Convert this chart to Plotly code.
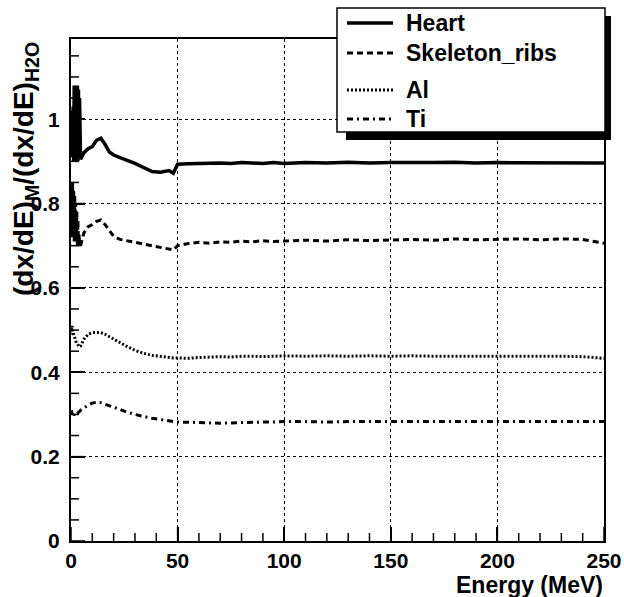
import plotly.graph_objects as go

# ---------------- data ----------------
energy = [0.25, 0.5, 0.75, 1.0, 1.25, 1.5, 1.75, 2.0, 2.25, 2.5, 2.75, 3.0, 3.25, 3.5, 3.75, 4.0, 4.5,
          5, 6, 8, 10, 12, 14, 16, 18, 20,
          23, 26, 30, 34, 38, 42, 46, 48, 50,
          55, 60, 65, 70, 75, 80, 85, 90, 95, 100,
          110, 120, 130, 140, 150, 160, 170, 180, 190, 200, 210, 220, 230, 240, 250]

heart = [0.92, 1.02, 0.91, 1.03, 0.90, 1.08, 0.91, 1.08, 0.90, 1.08, 0.91, 1.08, 0.90, 1.07, 0.91, 1.05, 0.905,
         0.91, 0.92, 0.93, 0.935, 0.95, 0.955, 0.94, 0.922, 0.915,
         0.91, 0.903, 0.895, 0.885, 0.876, 0.874, 0.878, 0.872, 0.893,
         0.894, 0.895, 0.894, 0.896, 0.895, 0.897, 0.896, 0.895, 0.897, 0.895,
         0.897, 0.896, 0.898, 0.896, 0.897, 0.896, 0.897, 0.898, 0.896, 0.897, 0.897, 0.896, 0.897, 0.896, 0.896]

skeleton_ribs = [0.84, 0.72, 0.85, 0.74, 0.83, 0.71, 0.82, 0.72, 0.80, 0.71, 0.78, 0.70, 0.76, 0.70, 0.73, 0.705, 0.70,
                 0.71, 0.73, 0.745, 0.75, 0.758, 0.761, 0.75, 0.735, 0.722,
                 0.715, 0.712, 0.708, 0.705, 0.70, 0.697, 0.693, 0.69, 0.70,
                 0.705, 0.708, 0.706, 0.709, 0.708, 0.711, 0.709, 0.712, 0.710, 0.711,
                 0.713, 0.711, 0.714, 0.712, 0.713, 0.715, 0.713, 0.716, 0.714, 0.715, 0.716, 0.714, 0.716, 0.715, 0.706]

al = [0.50, 0.51, 0.49, 0.50, 0.49, 0.485, 0.48, 0.478, 0.475, 0.47, 0.468, 0.466, 0.464, 0.462, 0.46, 0.46, 0.462,
      0.468, 0.478, 0.49, 0.494, 0.494, 0.494, 0.49, 0.484, 0.478,
      0.47, 0.462, 0.452, 0.445, 0.44, 0.437, 0.435, 0.434, 0.434,
      0.433, 0.435, 0.436, 0.437, 0.436, 0.438, 0.438, 0.437, 0.438, 0.439,
      0.438, 0.439, 0.438, 0.439, 0.438, 0.439, 0.438, 0.438, 0.439, 0.438, 0.438, 0.439, 0.438, 0.437, 0.433]

ti = [0.31, 0.30, 0.305, 0.30, 0.302, 0.298, 0.30, 0.298, 0.299, 0.30, 0.30, 0.301, 0.302, 0.303, 0.305, 0.307, 0.31,
      0.312, 0.316, 0.322, 0.327, 0.329, 0.328, 0.324, 0.32, 0.317,
      0.312, 0.306, 0.30, 0.295, 0.291, 0.288, 0.284, 0.283, 0.282,
      0.282, 0.281, 0.28, 0.279, 0.28, 0.281, 0.281, 0.282, 0.282, 0.283,
      0.283, 0.282, 0.283, 0.283, 0.282, 0.283, 0.283, 0.282, 0.283, 0.283, 0.282, 0.283, 0.283, 0.282, 0.283]

series_names = ["Heart", "Skeleton_ribs", "Al", "Ti"]
series_values = [heart, skeleton_ribs, al, ti]
x_max = 250
y_max = 1.19
x_tick_step = 50
y_tick_step = 0.2
x_minor_step = 10
y_minor_step = 0.05

# ---------------- styles ----------------
dashes = ["solid", "6px,4px", "2px,2px", "6px,4px,2px,4px"]
widths = [3.5, 3, 3, 3]
FONT = "Liberation Sans"

fig = go.Figure()
for name, vals, d, w in zip(series_names, series_values, dashes, widths):
    fig.add_trace(go.Scatter(x=energy, y=vals, mode="lines", name=name,
                             line=dict(color="black", width=w, dash=d),
                             showlegend=False))

tickfont = dict(family=FONT, size=21, color="black", weight="bold")

fig.update_layout(
    template="none",
    xaxis=dict(range=[0, x_max], tickmode="linear", tick0=0, dtick=x_tick_step,
               automargin=False, showline=True, linecolor="black", linewidth=2, mirror=True,
               ticks="inside", ticklen=14, tickwidth=1.5, tickcolor="black",
               showgrid=True, gridcolor="black", gridwidth=1, griddash="dot",
               zeroline=False, tickfont=tickfont, ticklabelstandoff=0),
    yaxis=dict(range=[0, y_max], tickmode="linear", tick0=0, dtick=y_tick_step,
               automargin=False, showline=True, linecolor="black", linewidth=2, mirror=True,
               ticks="inside", ticklen=14, tickwidth=1.5, tickcolor="black",
               showgrid=True, gridcolor="black", gridwidth=1, griddash="dot",
               zeroline=False, tickfont=tickfont, ticklabelstandoff=5),
)

# plot area: x 71..604, y 39..541 px
L, R, T, B = 71, 604, 39, 541
W, H = R - L, B - T
def px(x):
    return (x - L) / W
def py(y):
    return (B - y) / H

shapes = []
# tick marks on the bottom and left frame (positions on the data scale)
n_x = int(round(x_max / x_minor_step))
for i in range(n_x + 1):
    xv = i * x_minor_step
    major = (i * x_minor_step) % x_tick_step == 0
    ln = 14 if major else 8
    shapes.append(dict(type="line", xref="x", yref="paper", layer="above",
                       x0=xv, x1=xv, y0=0, y1=ln / H,
                       line=dict(color="black", width=1.5)))
n_y = int(y_max / y_minor_step)
for i in range(n_y + 1):
    yv = round(i * y_minor_step, 4)
    major = i % int(round(y_tick_step / y_minor_step)) == 0
    ln = 14 if major else 8
    shapes.append(dict(type="line", xref="paper", yref="y", layer="above",
                       x0=0, x1=ln / W, y0=yv, y1=yv,
                       line=dict(color="black", width=1.5)))

# legend shadow
shapes.append(dict(type="rect", xref="paper", yref="paper", layer="above",
                   x0=px(346), x1=px(611), y0=py(140), y1=py(16),
                   fillcolor="black", line=dict(width=0)))
# legend box
shapes.append(dict(type="rect", xref="paper", yref="paper", layer="above",
                   x0=px(337), x1=px(605), y0=py(132), y1=py(8),
                   fillcolor="white", line=dict(color="black", width=1.5)))
leg_y = [23, 53, 90, 119]
for d, w, yy, name in zip(dashes, widths, leg_y, series_names):
    shapes.append(dict(type="line", xref="paper", yref="paper", layer="above",
                       x0=px(347), x1=px(393), y0=py(yy), y1=py(yy),
                       line=dict(color="black", width=w, dash=d)))

annotations = []
for yy, name in zip(leg_y, series_names):
    annotations.append(dict(xref="paper", yref="paper", x=px(404), y=py(yy), text=name,
                            showarrow=False, xanchor="left", yanchor="middle",
                            font=dict(family=FONT, size=23, color="black", weight="bold")))
# axis titles
annotations.append(dict(xref="paper", yref="paper", x=px(605), y=py(585), text="Energy (MeV)",
                        showarrow=False, xanchor="right", yanchor="middle",
                        font=dict(family=FONT, size=23, color="black", weight="bold")))
annotations.append(dict(xref="paper", yref="paper", x=px(25), y=py(40),
                        text="(dx/dE)<sub>M</sub>/(dx/dE)<sub>H2O</sub>", textangle=-90,
                        showarrow=False, xanchor="center", yanchor="top",
                        font=dict(family=FONT, size=28, color="black", weight="bold")))

fig.update_layout(
    width=624, height=597,
    margin=dict(l=L, r=624 - R, t=T, b=597 - B, pad=0),
    paper_bgcolor="white", plot_bgcolor="white",
    shapes=shapes, annotations=annotations,
    showlegend=False,
)

fig.write_html("out.html", config={"displayModeBar": False},
               post_script="document.body.style.margin='0';document.body.style.padding='0';")
